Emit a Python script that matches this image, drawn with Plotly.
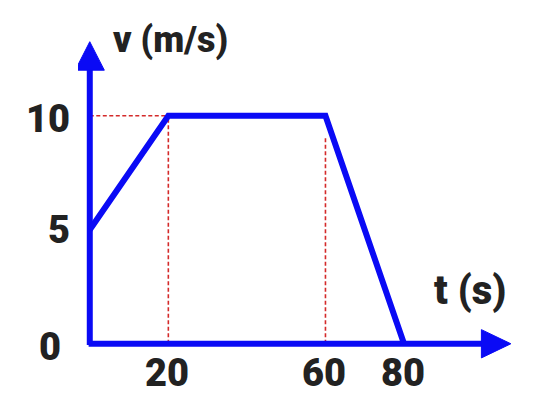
import plotly.graph_objects as go

# data
t_vals = [0, 20, 60, 80]
v_vals = [5, 10, 10, 0]
x_tick_vals = [20, 60, 80]
x_tick_text = ["20", "60", "80"]
y_tick_vals = [0, 5, 10]
y_tick_text = ["0", "5", "10"]

BLUE = "#0a0af5"
RED = "#d42a2a"
TXT = "#222222"
FONT = "Roboto"

X_END = 107.2   # arrow tip of time axis
Y_END = 13.25   # arrow tip of velocity axis
X_HEAD = 99.7
Y_HEAD = 12.0
HW_X = 3.7      # half-width of y-arrow head (x units)
HW_Y = 0.62     # half-height of x-arrow head (y units)

fig = go.Figure()

# guide lines (red dotted)
guides = [
    ([0, 20], [10, 10]),
    ([20, 20], [0, 10]),
    ([60, 60], [0, 9.05]),
]
for gx, gy in guides:
    fig.add_trace(go.Scatter(x=gx, y=gy, mode="lines",
                             line=dict(color=RED, width=1.6, dash="4px,2.5px"),
                             hoverinfo="skip", showlegend=False))

# axes with arrows
fig.add_trace(go.Scatter(x=[0, 0], y=[-0.05, Y_HEAD + 0.2], mode="lines",
                         line=dict(color=BLUE, width=6), showlegend=False))
fig.add_trace(go.Scatter(x=[-0.3, X_HEAD + 0.5], y=[0, 0], mode="lines",
                         line=dict(color=BLUE, width=6), showlegend=False))
fig.add_trace(go.Scatter(x=[-HW_X, 0, HW_X, -HW_X], y=[Y_HEAD, Y_END, Y_HEAD, Y_HEAD],
                         mode="lines", fill="toself", fillcolor=BLUE,
                         line=dict(color=BLUE, width=1), showlegend=False))
fig.add_trace(go.Scatter(x=[X_HEAD, X_END, X_HEAD, X_HEAD], y=[-HW_Y, 0, HW_Y, -HW_Y],
                         mode="lines", fill="toself", fillcolor=BLUE,
                         line=dict(color=BLUE, width=1), showlegend=False))

# velocity graph
fig.add_trace(go.Scatter(x=t_vals, y=v_vals, mode="lines",
                         line=dict(color=BLUE, width=6), showlegend=False))

ann = []
yshifts = {0: -3, 5: 0, 10: -3}
xshifts = {0: -40, 5: -31, 10: -42}
for v, txt in zip(y_tick_vals, y_tick_text):
    ann.append(dict(x=0, y=v, text=txt, showarrow=False, xshift=xshifts[v],
                    yshift=yshifts[v], font=dict(family=FONT, size=38, color=TXT, weight=900)))
for t, txt in zip(x_tick_vals, x_tick_text):
    ann.append(dict(x=t, y=0, text=txt, showarrow=False, xshift=-1,
                    yshift=-29, font=dict(family=FONT, size=38, color=TXT, weight=900)))
ann.append(dict(x=20.6, y=13.33, text="v (m/s)", showarrow=False,
                font=dict(family=FONT, size=36, color=TXT, weight=900)))
ann.append(dict(x=96.7, y=2.32, text="t (s)", showarrow=False,
                font=dict(family=FONT, size=40, color=TXT, weight=900)))

fig.update_layout(
    width=532, height=410,
    margin=dict(l=70, r=26, t=28, b=56, autoexpand=False),
    paper_bgcolor="white", plot_bgcolor="white",
    xaxis=dict(range=[-3, 108], visible=False),
    yaxis=dict(range=[-0.8, 13.5], visible=False),
    annotations=ann,
    showlegend=False,
)

fig.write_html("out.html")
